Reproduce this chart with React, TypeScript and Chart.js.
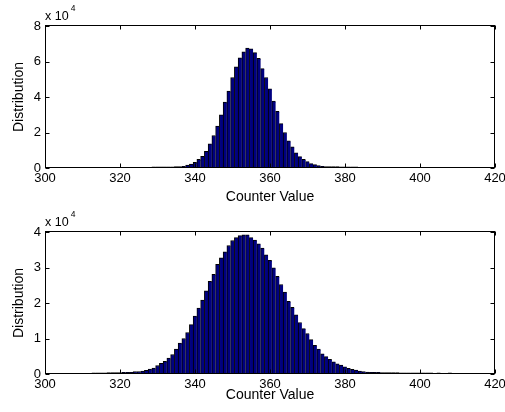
import React, { useEffect, useRef } from 'react';
import { Chart, registerables } from 'chart.js';

Chart.register(...registerables);

// ---- Data ----
const topCounterValues = [
  329, 330, 331, 332, 333, 334, 335, 336, 337, 338, 339, 340, 341, 342, 343, 344, 345, 346, 347,
  348, 349, 350, 351, 352, 353, 354, 355, 356, 357, 358, 359, 360, 361, 362, 363, 364, 365, 366,
  367, 368, 369, 370, 371, 372, 373, 374, 375, 376, 377, 378, 379, 380, 381, 382, 383,
];
const topDistribution = [
  600, 650, 650, 700, 700, 700, 750, 750, 900, 1700, 2200, 3200, 4900, 6600, 9400, 13600, 18300,
  23600, 30000, 37100, 43300, 51000, 57000, 62000, 65500, 67500, 67200, 65000, 61800, 56000, 51000,
  44600, 37700, 31900, 25000, 20000, 15300, 11900, 8500, 6400, 4900, 3600, 2500, 1900, 1300, 1000,
  850, 800, 750, 750, 700, 700, 650, 650, 600,
];

const bottomCounterValues = [
  313, 314, 315, 316, 317, 318, 319, 320, 321, 322, 323, 324, 325, 326, 327, 328, 329, 330, 331,
  332, 333, 334, 335, 336, 337, 338, 339, 340, 341, 342, 343, 344, 345, 346, 347, 348, 349, 350,
  351, 352, 353, 354, 355, 356, 357, 358, 359, 360, 361, 362, 363, 364, 365, 366, 367, 368, 369,
  370, 371, 372, 373, 374, 375, 376, 377, 378, 379, 380, 381, 382, 383, 384, 385, 386, 387, 388,
  389, 390, 391, 392, 393, 394, 395, 396, 397, 398, 399, 400, 401, 402, 403, 405, 408,
];
const bottomDistribution = [
  350, 350, 350, 350, 400, 400, 400, 400, 450, 500, 500, 700, 700, 800, 1000, 1400, 1700, 2400,
  3000, 3600, 4500, 5500, 7000, 8700, 10000, 11700, 13900, 16300, 18600, 20800, 23400, 26100,
  28100, 30900, 32700, 34400, 36200, 37600, 38400, 39000, 39200, 39200, 38400, 37700, 36700,
  35500, 33600, 32000, 29900, 27500, 25200, 23100, 20500, 18800, 16700, 14500, 12800, 11400,
  9700, 8100, 7000, 5700, 4900, 4100, 3400, 2900, 2500, 2000, 1600, 1300, 1100, 800, 700, 550,
  500, 450, 450, 400, 400, 400, 400, 400, 350, 350, 350, 350, 350, 350, 350, 350, 350, 350, 350,
];

const xTickValues = [300, 320, 340, 360, 380, 400, 420];
const topYTickValues = [0, 20000, 40000, 60000, 80000];
const bottomYTickValues = [0, 10000, 20000, 30000, 40000];
const yScaleFactor = 10000;
const exponentLabel = '4';
const xAxisTitle = 'Counter Value';
const yAxisTitle = 'Distribution';

const FONT = "'Liberation Sans', Arial, Helvetica, sans-serif";
const CANVAS_W = 520;
const CANVAS_H = 206;

const boxPlugin = {
  id: 'matlabBox',
  afterDatasetsDraw(chart: any, _args: any, opts: any) {
    const { ctx, chartArea, scales } = chart;
    const L = Math.round(chartArea.left) + 0.5;
    const R = Math.round(chartArea.right) - 0.5;
    const T = Math.round(chartArea.top) - 0.5;
    const B = Math.round(chartArea.bottom) - 0.5;
    const tl = 4;
    ctx.save();
    ctx.strokeStyle = '#000';
    ctx.lineWidth = 1;
    ctx.beginPath();
    scales.x.ticks.forEach((t: any) => {
      const px = Math.round(scales.x.getPixelForValue(t.value)) + 0.5;
      ctx.moveTo(px, B);
      ctx.lineTo(px, B - tl);
      ctx.moveTo(px, T);
      ctx.lineTo(px, T + tl);
    });
    scales.y.ticks.forEach((t: any) => {
      const py = Math.round(scales.y.getPixelForValue(t.value)) + 0.5;
      ctx.moveTo(L, py);
      ctx.lineTo(L + tl, py);
      ctx.moveTo(R, py);
      ctx.lineTo(R - tl, py);
    });
    ctx.stroke();
    ctx.strokeRect(L, T, R - L, B - T);

    ctx.fillStyle = '#000';
    ctx.textBaseline = 'alphabetic';
    ctx.textAlign = 'left';
    ctx.font = `12.5px ${FONT}`;
    const base = chartArea.top - 6;
    ctx.fillText('x 10', chartArea.left, base);
    const w = ctx.measureText('x 10').width;
    ctx.font = `8.5px ${FONT}`;
    ctx.fillText(opts.exponent, chartArea.left + w + 2, base - 9.5);
    ctx.restore();
  },
};

function makeConfig(values: number[], counts: number[], yTicks: number[], xTitlePad: number) {
  return {
    type: 'bar',
    data: {
      datasets: [
        {
          data: values.map((v, i) => ({ x: v, y: counts[i] })),
          backgroundColor: '#000080',
          borderColor: '#000000',
          borderWidth: { top: 1, left: 1, right: 0, bottom: 0 },
          borderSkipped: false,
          barPercentage: 1,
          categoryPercentage: 1,
        },
      ],
    },
    options: {
      animation: false,
      responsive: false,
      events: [],
      layout: { padding: { top: 26, left: 0, right: CANVAS_W - 495, bottom: 0 } },
      plugins: {
        legend: { display: false },
        tooltip: { enabled: false },
        matlabBox: { exponent: exponentLabel },
      },
      scales: {
        x: {
          type: 'linear',
          offset: false,
          min: xTickValues[0],
          max: xTickValues[xTickValues.length - 1],
          grid: { display: false, drawTicks: false, tickLength: 0, offset: false },
          border: { display: false },
          afterBuildTicks: (scale: any) => {
            scale.ticks = xTickValues.map((v) => ({ value: v }));
          },
          afterFit: (scale: any) => {
            scale.height = 38;
          },
          ticks: {
            color: '#000',
            font: { family: FONT, size: 13 },
            padding: 3,
            maxRotation: 0,
            autoSkip: false,
            callback: (v: any) => String(v),
          },
          title: {
            display: true,
            text: xAxisTitle,
            color: '#000',
            font: { family: FONT, size: 14 },
            padding: { top: 0, bottom: xTitlePad },
          },
        },
        y: {
          type: 'linear',
          min: yTicks[0],
          max: yTicks[yTicks.length - 1],
          grid: { display: false, drawTicks: false, tickLength: 0 },
          border: { display: false },
          afterBuildTicks: (scale: any) => {
            scale.ticks = yTicks.map((v) => ({ value: v }));
          },
          afterFit: (scale: any) => {
            scale.width = 45;
          },
          ticks: {
            color: '#000',
            font: { family: FONT, size: 13 },
            padding: 4,
            callback: (v: any) => String(v / yScaleFactor),
          },
          title: {
            display: true,
            text: yAxisTitle,
            color: '#000',
            font: { family: FONT, size: 14 },
            padding: { top: 11, bottom: 0 },
          },
        },
      },
    },
    plugins: [boxPlugin],
  } as any;
}

function Histogram({ values, counts, yTicks, xTitlePad, top }: any) {
  const ref = useRef<HTMLCanvasElement | null>(null);
  useEffect(() => {
    if (!ref.current) return;
    const chart = new Chart(ref.current, makeConfig(values, counts, yTicks, xTitlePad));
    return () => chart.destroy();
  }, []);
  return (
    <canvas
      ref={ref}
      width={CANVAS_W}
      height={CANVAS_H}
      style={{ position: 'absolute', left: 0, top, width: CANVAS_W, height: CANVAS_H, display: 'block' }}
    />
  );
}

export default function App() {
  return (
    <div
      style={{
        position: 'fixed',
        left: 0,
        top: 0,
        width: 505,
        height: 412,
        overflow: 'hidden',
        background: '#fff',
      }}
    >
      <Histogram values={topCounterValues} counts={topDistribution} yTicks={topYTickValues} xTitlePad={0} top={0} />
      <Histogram values={bottomCounterValues} counts={bottomDistribution} yTicks={bottomYTickValues} xTitlePad={8} top={206} />
    </div>
  );
}
